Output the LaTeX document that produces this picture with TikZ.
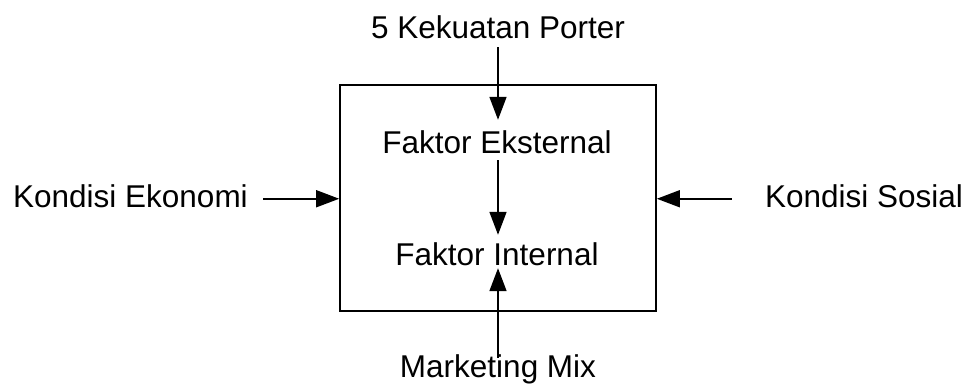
\documentclass[tikz,border=0pt]{standalone}
\usepackage{fontspec}
\setmainfont{Liberation Sans}
\usetikzlibrary{arrows.meta,calc}
\begin{document}
\begin{tikzpicture}[x=1pt,y=-1pt,
  txt/.style={inner sep=0pt,text height=23pt,text depth=6.5pt,anchor=base,font=\fontsize{31.5}{38}\selectfont},
  arr/.style={line width=1.7pt,-{Triangle[length=23pt,width=17pt]}},
  frame/.style={draw,line width=1.7pt,inner sep=0pt,minimum width=316pt,minimum height=226pt}]
\useasboundingbox (0,0) rectangle (971,391);
\node[frame] (box) at (498,198) {};
\node[txt] (porter) at (498,38) {5 Kekuatan Porter};
\node[txt] (eks) at (497,153) {Faktor Eksternal};
\node[txt] (int) at (497,265) {Faktor Internal};
\node[txt] (mm) at (498,377) {Marketing Mix};
\node[txt] (eko) at (130.5,207) {Kondisi Ekonomi};
\node[txt] (sos) at (864,207) {Kondisi Sosial};
\draw[arr,shorten <=2.5pt,shorten >=10pt] (porter.south) -- (porter.south |- eks.north);
\draw[arr,shorten <=0.5pt,shorten >=7pt] (porter.south |- eks.south) -- (porter.south |- int.north);
\draw[arr,shorten <=-4pt,shorten >=-3.5pt] (mm.north) -- (mm.north |- int.south);
\draw[arr,shorten <=15pt] (eko.east) -- (eko.east -| box.west);
\draw[arr,shorten <=33pt] (sos.west) -- (sos.west -| box.east);
\end{tikzpicture}
\end{document}
